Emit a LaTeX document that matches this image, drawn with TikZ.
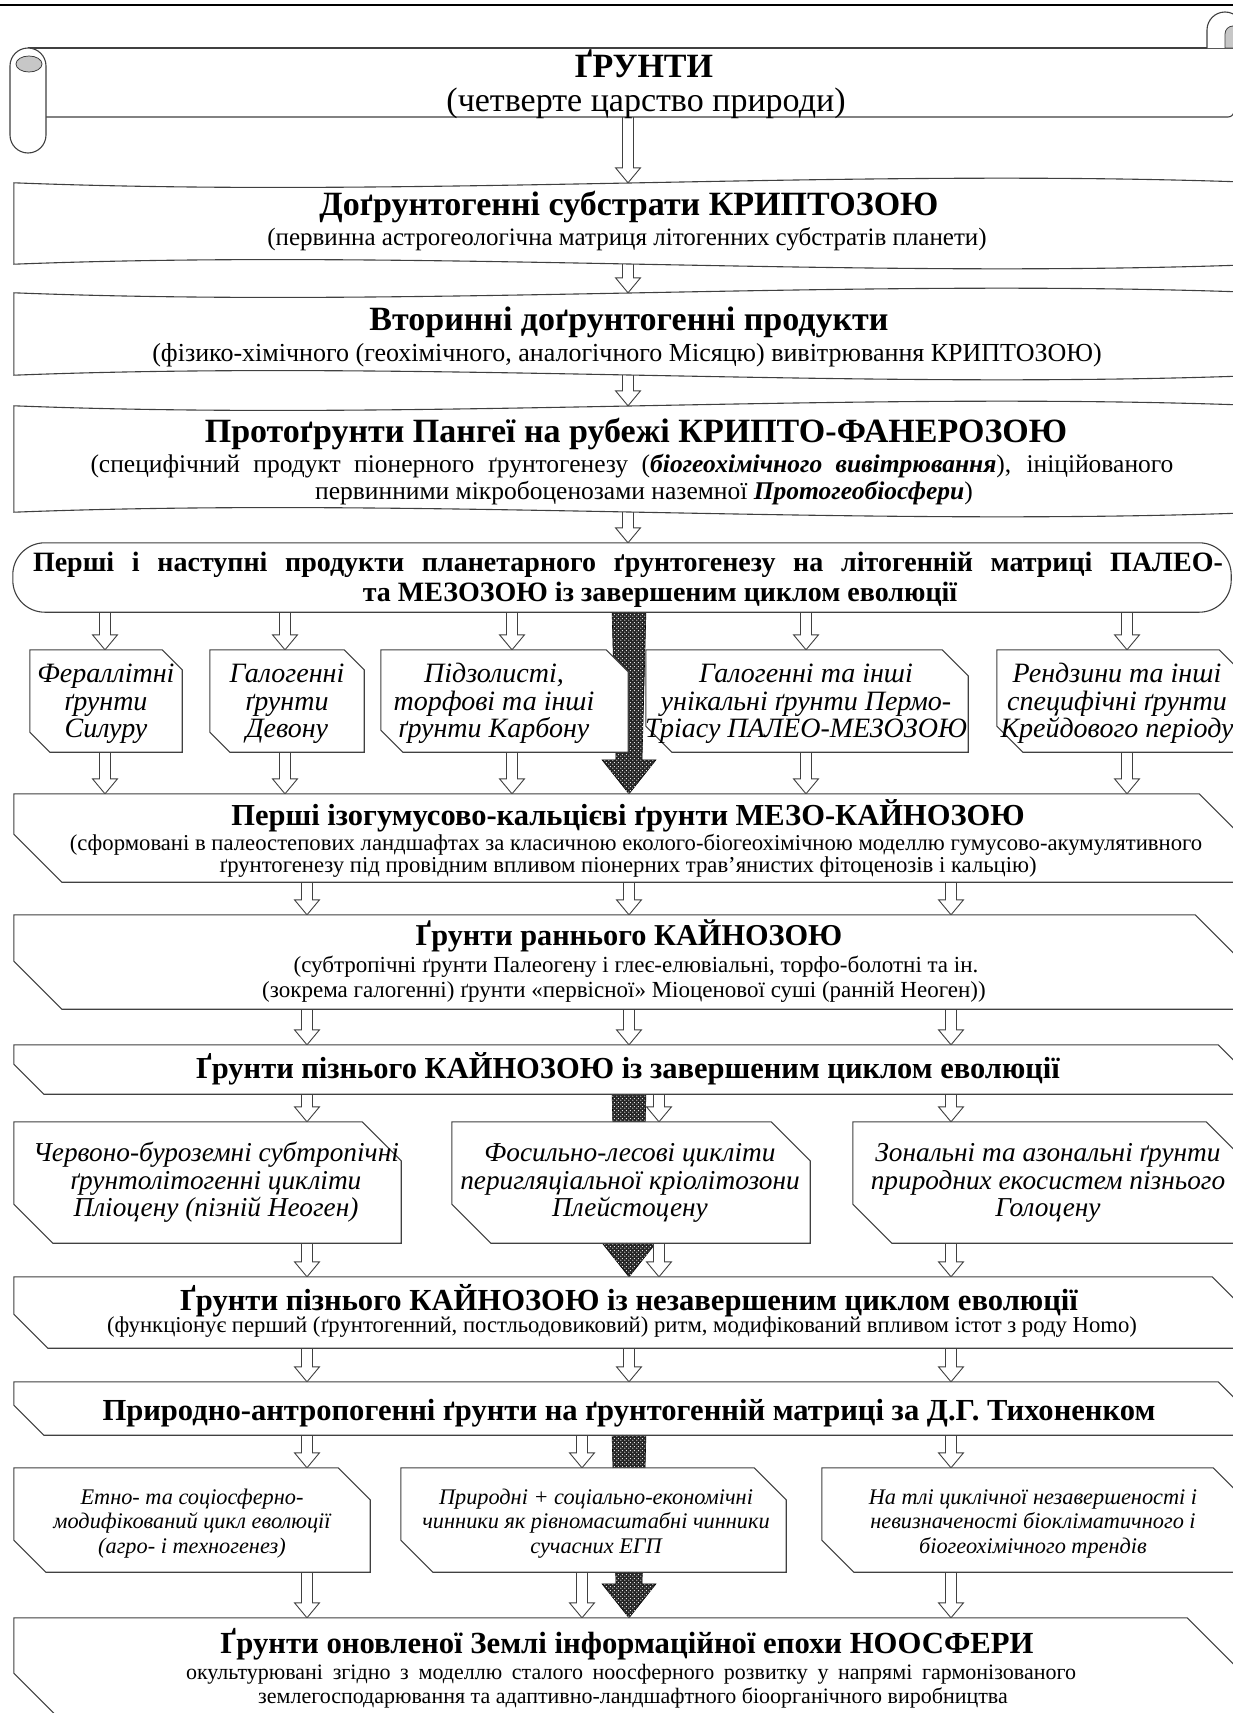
\documentclass[tikz,border=0pt]{standalone}
\usepackage{fontspec}
\setmainfont{Liberation Serif}
\usetikzlibrary{patterns,calc}
\pgfdeclarepatternformonly{wdots}{\pgfpointorigin}{\pgfpoint{4pt}{4pt}}{\pgfpoint{4pt}{4pt}}{%
  \pgfpathcircle{\pgfpoint{1pt}{1pt}}{0.75pt}\pgfpathcircle{\pgfpoint{3pt}{3pt}}{0.75pt}\pgfusepath{fill}}
\newcommand\frm[5]{\node[inner sep=0pt,minimum width={(#4)-(#2)},minimum height={(#5)-(#3)}] (#1) at ({((#2)+(#4))/2},{((#3)+(#5))/2}) {};}
\newcommand\snip[3]{\draw[boxs] (#1.north west) -- ([xshift=-#2pt]#1.north east) -- ([yshift=-#2pt]#1.north east) -- (#1.south east) -- ([xshift=#3pt]#1.south west) -- ([yshift=#3pt]#1.south west) -- cycle;}
\newcommand\harr[3]{\draw[harrow] let \p1=(#2.south), \p2=(#3.north), \p3=(#1,0) in (\x3-5.5pt,\y1+6pt) -- (\x3-5.5pt,\y2+15pt) -- (\x3-12.5pt,\y2+15pt) -- (\x3,\y2) -- (\x3+12.5pt,\y2+15pt) -- (\x3+5.5pt,\y2+15pt) -- (\x3+5.5pt,\y1+6pt) -- cycle;}
\newcommand\dotarr[3]{\draw[darr] let \p1=(#2.south), \p2=(#3.north), \p3=(#1,0) in (\x3-17pt,\y1+4pt) -- (\x3+17pt,\y1+4pt) -- (\x3+13pt,\y2+34pt) -- (\x3+27pt,\y2+34pt) -- (\x3,\y2) -- (\x3-27pt,\y2+34pt) -- (\x3-13pt,\y2+34pt) -- cycle;}
\newcommand\wavy[1]{\draw[boxs] (#1.north west) .. controls ($(#1.north west)!0.33!(#1.north east)+(0,16)$) and ($(#1.north west)!0.67!(#1.north east)+(0,-16)$) .. (#1.north east) -- (#1.south east) .. controls ($(#1.south west)!0.67!(#1.south east)+(0,16)$) and ($(#1.south west)!0.33!(#1.south east)+(0,-16)$) .. (#1.south west) -- cycle;}
\newcommand\just[2]{\makebox[#1pt][s]{#2}}
\begin{document}
\begin{tikzpicture}[x=1pt,y=-1pt,
  ln/.style={draw=black!75,line width=1.1pt},
  boxs/.style={ln,fill=white},
  harrow/.style={draw=black!75,line width=0.9pt,fill=white},
  darr/.style={draw=black,line width=0.6pt,fill=black!85,postaction={pattern=wdots,pattern color=white}},
  txt/.style={inner sep=0pt,anchor=center,text height={0.66*#1},text depth=0pt},
  tb/.style={txt=#1,font=\bfseries\fontsize{#1}{#1}\selectfont},
  tr/.style={txt=#1,font=\fontsize{#1}{#1}\selectfont},
  ti/.style={txt=#1,font=\itshape\fontsize{#1}{#1}\selectfont}]
\useasboundingbox (0,0) rectangle (1233,1713);
\clip (0,0) rectangle (1233,1713);
\fill[white] (0,0) rectangle (1233,1713);
\draw[line width=2pt] (0,5) -- (1233,5);
% frames
\frm{s0}{10}{48}{1245}{117}
\frm{b1}{14}{183}{1265}{264}
\frm{b2}{14}{293}{1265}{375}
\frm{b3}{14}{406}{1265}{512}
\frm{tm}{13}{543}{1231}{612}
\frm{ra}{30}{650}{182}{752}
\frm{rb}{210}{650}{364}{752}
\frm{rc}{381}{650}{628}{752}
\frm{rd}{646}{650}{968}{752}
\frm{re}{997}{650}{1245}{752}
\frm{b4}{14}{794}{1247}{882}
\frm{b5}{14}{915}{1243}{1009}
\frm{b6}{14}{1045}{1250}{1094}
\frm{rf}{14}{1122}{401}{1243}
\frm{rg}{452}{1122}{810}{1243}
\frm{rh}{853}{1122}{1245}{1243}
\frm{b7}{14}{1277}{1246}{1348}
\frm{b8}{14}{1382}{1248}{1435}
\frm{ri}{14}{1468}{370}{1572}
\frm{rj}{401}{1468}{786}{1572}
\frm{rk}{822}{1468}{1245}{1572}
\frm{b9}{14}{1618}{1245}{1718}
% dotted arrows
\dotarr{629}{tm}{b4}
\dotarr{629}{b6}{b7}
\dotarr{629}{b8}{b9}
% hollow arrows
\harr{628}{s0}{b1}
\harr{628}{b1}{b2}
\harr{628}{b2}{b3}
\harr{628}{b3}{tm}
\harr{105}{tm}{ra}\harr{285}{tm}{rb}\harr{512}{tm}{rc}\harr{806}{tm}{rd}\harr{1127}{tm}{re}
\harr{105}{ra}{b4}\harr{285}{rb}{b4}\harr{512}{rc}{b4}\harr{806}{rd}{b4}\harr{1127}{re}{b4}
\harr{307}{b4}{b5}\harr{629}{b4}{b5}\harr{951}{b4}{b5}
\harr{307}{b5}{b6}\harr{629}{b5}{b6}\harr{951}{b5}{b6}
\harr{307}{b6}{rf}\harr{659}{b6}{rg}\harr{951}{b6}{rh}
\harr{307}{rf}{b7}\harr{659}{rg}{b7}\harr{951}{rh}{b7}
\harr{307}{b7}{b8}\harr{629}{b7}{b8}\harr{951}{b7}{b8}
\harr{307}{b8}{ri}\harr{582}{b8}{rj}\harr{951}{b8}{rk}
\harr{307}{ri}{b9}\harr{582}{rj}{b9}\harr{951}{rk}{b9}
% scroll
\fill[white] (10,48) rectangle (1245,117);
\draw[ln] (28,48) -- (1245,48);
\draw[ln] (46,117) -- (1228,117) arc[start angle=-90,end angle=0,radius=6pt];
\draw[boxs] (10,66) arc[start angle=180,end angle=0,radius=18pt] -- (46,135) arc[start angle=0,end angle=-180,radius=18pt] -- cycle;
\filldraw[fill=black!22,draw=black!75,line width=0.8pt] (29,64) ellipse[x radius=13pt,y radius=8pt];
\draw[boxs] (1207,48) -- (1207,30) arc[start angle=180,end angle=0,radius=18pt] -- (1243,48);
\filldraw[fill=black!22,draw=black!75,line width=0.8pt] (1225,48) -- (1225,34) arc[start angle=180,end angle=0,radius=8pt] -- (1241,48) -- cycle;
% boxes
\wavy{b1}\wavy{b2}\wavy{b3}
\draw[boxs,rounded corners=32pt] (tm.north west) rectangle (tm.south east);
\snip{ra}{20}{20}\snip{rb}{20}{20}\snip{rc}{22}{22}\snip{rd}{26}{26}\snip{re}{26}{26}
\snip{b4}{48}{48}\snip{b5}{48}{48}\snip{b6}{32}{30}
\snip{rf}{39}{39}\snip{rg}{39}{39}\snip{rh}{39}{39}
\snip{b7}{34}{34}\snip{b8}{30}{30}
\snip{ri}{32}{32}\snip{rj}{32}{32}\snip{rk}{32}{32}
\snip{b9}{58}{45}
% texts
\node[tb=34] (t0a) at (644,66) {ҐРУНТИ};
\node[tr=34] (t0b) at (646,100) {(четверте царство природи)};
\node[tb=34] (t1a) at (629,204) {Доґрунтогенні субстрати КРИПТОЗОЮ};
\node[tr=25] (t1b) at (627,237) {(первинна астрогеологічна матриця літогенних субстратів планети)};
\node[tb=34] (t2a) at (629,319) {Вторинні доґрунтогенні продукти};
\node[tr=26] (t2b) at (627,353) {(фізико-хімічного (геохімічного, аналогічного Місяцю) вивітрювання КРИПТОЗОЮ)};
\node[tb=34] (t3a) at (636,431) {Протоґрунти Пангеї на рубежі КРИПТО-ФАНЕРОЗОЮ};
\node[tr=25.5] (t3b) at (632,464) {\just{1083}{(специфічний продукт піонерного ґрунтогенезу (\textbf{\textit{біогеохімічного вивітрювання}}), ініційованого}};
\node[tr=25.5] (t3c) at (644,491) {первинними мікробоценозами наземної \textbf{\textit{Протогеобіосфери}})};
\node[tb=28] (tma) at (628,562) {\just{1190}{Перші і наступні продукти планетарного ґрунтогенезу на літогенній матриці ПАЛЕО-}};
\node[tb=28] (tmb) at (660,592) {та МЕЗОЗОЮ із завершеним циклом еволюції};
\foreach \nm/\xx/\la/\lb/\lc in {ra/106/Фераллітні/ґрунти/Силуру, rb/287/Галогенні/ґрунти/Девону, rc/494/{Підзолисті,}/торфові та інші/ґрунти Карбону, rd/806/Галогенні та інші/унікальні ґрунти Пермо-/Тріасу ПАЛЕО-МЕЗОЗОЮ, re/1117/Рендзини та інші/специфічні ґрунти/Крейдового періоду}{
  \node[ti=28] (\nm1) at (\xx,673) {\la};
  \node[ti=28] (\nm2) at (\xx,701) {\lb};
  \node[ti=28] (\nm3) at (\xx,728) {\lc};}
\node[tb=30.5] (t4a) at (628,815) {Перші ізогумусово-кальцієві ґрунти МЕЗО-КАЙНОЗОЮ};
\node[tr=22.7] (t4b) at (636,843) {(сформовані в палеостепових ландшафтах за класичною еколого-біогеохімічною моделлю гумусово-акумулятивного};
\node[tr=22.7] (t4c) at (628,865) {ґрунтогенезу під провідним впливом піонерних трав’янистих фітоценозів і кальцію)};
\node[tb=30.3] (t5a) at (629,935) {Ґрунти раннього КАЙНОЗОЮ};
\node[tr=23] (t5b) at (636,965) {(субтропічні ґрунти Палеогену і глеє-елювіальні, торфо-болотні та ін.};
\node[tr=23] (t5c) at (624,990) {(зокрема галогенні) ґрунти «первісної» Міоценової суші (ранній Неоген))};
\node[tb=30.5] (t6a) at (628,1068) {Ґрунти пізнього КАЙНОЗОЮ із завершеним циклом еволюції};
\foreach \nm/\xx/\la/\lb/\lc in {rf/216/Червоно-буроземні субтропічні/ґрунтолітогенні цикліти/Пліоцену (пізній Неоген), rg/630/Фосильно-лесові цикліти/перигляціальної кріолітозони/Плейстоцену, rh/1048/Зональні та азональні ґрунти/природних екосистем пізнього/Голоцену}{
  \node[ti=27.3] (\nm1) at (\xx,1152) {\la};
  \node[ti=27.3] (\nm2) at (\xx,1180) {\lb};
  \node[ti=27.3] (\nm3) at (\xx,1207) {\lc};}
\node[tb=30.6] (t7a) at (629,1300) {Ґрунти пізнього КАЙНОЗОЮ із незавершеним циклом еволюції};
\node[tr=22.7] (t7b) at (622,1325) {(функціонує перший (ґрунтогенний, постльодовиковий) ритм, модифікований впливом істот з роду Homo)};
\node[tb=30.6] (t8a) at (629,1410) {Природно-антропогенні ґрунти на ґрунтогенній матриці за Д.Г. Тихоненком};
\foreach \nm/\xx/\la/\lb/\lc in {ri/192/Етно- та соціосферно-/модифікований цикл еволюції/(агро- і техногенез), rj/596/Природні + соціально-економічні/чинники як рівномасштабні чинники/сучасних ЕГП, rk/1033/На тлі циклічної незавершеності і/невизначеності біокліматичного і/біогеохімічного трендів}{
  \node[ti=22.3] (\nm1) at (\xx,1497) {\la};
  \node[ti=22.3] (\nm2) at (\xx,1521) {\lb};
  \node[ti=22.3] (\nm3) at (\xx,1546) {\lc};}
\node[tb=30.7] (t9a) at (627,1643) {Ґрунти оновленої Землі інформаційної епохи НООСФЕРИ};
\node[tr=22] (t9b) at (631,1672) {\just{890}{окультурювані згідно з моделлю сталого ноосферного розвитку у напрямі гармонізованого}};
\node[tr=22] (t9c) at (633,1696) {землегосподарювання та адаптивно-ландшафтного біоорганічного виробництва};
\end{tikzpicture}
\end{document}
